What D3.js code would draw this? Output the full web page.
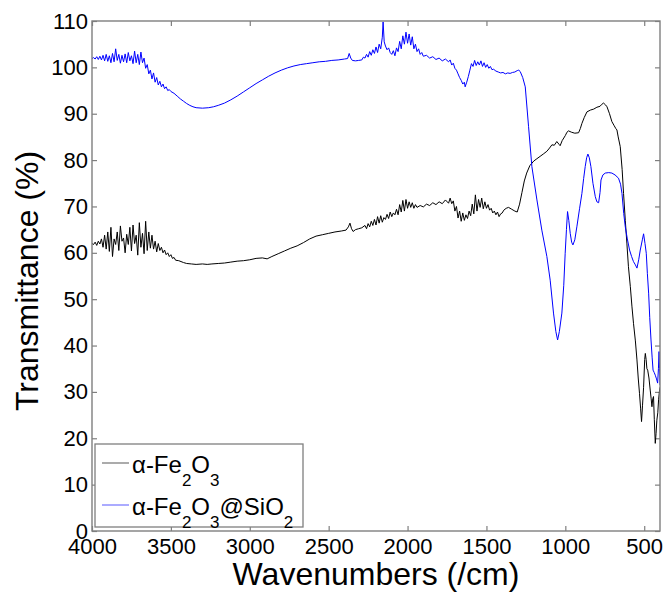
<!DOCTYPE html>
<html>
<head>
<meta charset="utf-8">
<script src="https://cdn.jsdelivr.net/npm/d3@7"></script>
<style>
body { margin: 0; background: #fff; }
svg text { font-family: "Liberation Sans", Arial, sans-serif; fill: #000; }
</style>
</head>
<body>
<svg id="chart"></svg>
<script>
const chartSize = { width: 668, height: 594 };
const margin = { left: 92, right: 8, top: 21, bottom: 63 };
const width = chartSize.width - margin.left - margin.right;
const height = chartSize.height - margin.top - margin.bottom;

const xTicks = [4000, 3500, 3000, 2500, 2000, 1500, 1000, 500];
const yTicks = [0, 10, 20, 30, 40, 50, 60, 70, 80, 90, 100, 110];

// [wavenumber, transmittance]
const fe2o3 = [
	[4000, 62.0], [3990, 61.8], [3980, 62.3], [3970, 61.6], [3960, 62.5], [3950, 61.9], [3940, 63.0], [3930, 61.2],
	[3920, 63.8], [3910, 60.8], [3900, 64.5], [3890, 60.3], [3880, 65.5], [3870, 59.2], [3860, 63.0], [3850, 61.8],
	[3840, 64.5], [3830, 60.5], [3820, 65.8], [3810, 62.5], [3800, 63.2], [3790, 60.0], [3780, 64.0], [3770, 61.8],
	[3760, 65.5], [3750, 60.4], [3740, 66.0], [3730, 62.0], [3720, 63.8], [3710, 59.5], [3700, 66.5], [3690, 61.2],
	[3680, 64.2], [3670, 59.8], [3660, 66.8], [3650, 60.5], [3640, 64.5], [3630, 61.0], [3620, 63.8], [3610, 60.8],
	[3600, 62.5], [3590, 60.2], [3580, 62.0], [3570, 60.5], [3560, 61.2], [3550, 60.0], [3540, 60.6], [3530, 59.6],
	[3520, 60.0], [3510, 59.2], [3500, 59.6], [3490, 58.8], [3480, 59.0], [3470, 58.4], [3450, 58.3], [3420, 57.9],
	[3400, 57.7], [3370, 57.6], [3340, 57.5], [3300, 57.6], [3270, 57.5], [3240, 57.6], [3200, 57.7], [3160, 57.8],
	[3120, 58.0], [3080, 58.2], [3040, 58.3], [3000, 58.5], [2960, 58.8], [2920, 58.9], [2890, 58.7], [2860, 59.2],
	[2820, 59.8], [2780, 60.4], [2740, 61.0], [2700, 61.5], [2660, 62.2], [2620, 63.0], [2580, 63.6], [2540, 63.9],
	[2500, 64.2], [2460, 64.5], [2420, 64.7], [2390, 64.9], [2375, 65.6], [2365, 66.4], [2355, 65.2], [2345, 64.6],
	[2330, 65.0], [2310, 65.2], [2290, 65.4], [2270, 65.9], [2260, 65.2], [2250, 66.3], [2240, 65.6], [2230, 66.8],
	[2220, 65.9], [2210, 67.2], [2200, 66.0], [2190, 67.8], [2180, 66.4], [2170, 68.0], [2160, 66.6], [2150, 67.6],
	[2140, 67.2], [2130, 68.3], [2120, 67.4], [2110, 68.8], [2100, 67.8], [2090, 68.6], [2080, 68.2], [2070, 69.4],
	[2060, 68.2], [2050, 70.4], [2040, 68.8], [2030, 71.3], [2020, 69.0], [2010, 71.5], [2000, 69.6], [1990, 71.0],
	[1980, 69.8], [1970, 70.8], [1960, 69.6], [1950, 70.4], [1940, 69.8], [1920, 70.2], [1900, 69.9], [1880, 70.5],
	[1860, 70.2], [1840, 70.8], [1820, 70.4], [1800, 71.0], [1780, 70.6], [1760, 71.4], [1740, 70.7], [1730, 71.8],
	[1720, 70.6], [1710, 71.2], [1700, 69.0], [1690, 70.0], [1680, 67.5], [1670, 69.0], [1660, 66.8], [1650, 68.6],
	[1640, 67.0], [1630, 68.2], [1620, 67.4], [1610, 69.0], [1600, 68.0], [1590, 70.5], [1580, 68.4], [1570, 72.5],
	[1560, 69.0], [1550, 71.5], [1540, 69.8], [1530, 71.8], [1520, 69.5], [1510, 71.0], [1500, 69.6], [1490, 70.4],
	[1480, 69.2], [1470, 69.6], [1460, 68.6], [1450, 69.0], [1440, 68.2], [1430, 68.8], [1420, 67.8], [1410, 68.4],
	[1400, 68.6], [1390, 69.2], [1375, 69.6], [1360, 69.8], [1340, 69.4], [1320, 69.0], [1305, 68.8], [1290, 70.5],
	[1275, 73.0], [1260, 75.5], [1245, 77.2], [1225, 78.8], [1200, 79.8], [1180, 80.3], [1160, 80.8], [1140, 81.3],
	[1117, 81.9], [1100, 82.6], [1085, 83.3], [1070, 83.2], [1054, 84.0], [1040, 83.4], [1033, 83.1], [1020, 84.2],
	[1000, 85.3], [990, 86.0], [980, 86.3], [960, 86.0], [940, 85.8], [916, 85.9], [905, 86.8], [895, 87.9],
	[880, 89.2], [863, 90.4], [840, 90.8], [820, 91.0], [800, 91.4], [780, 91.6], [770, 92.0], [758, 92.3],
	[745, 91.9], [736, 91.5], [720, 90.0], [705, 88.3], [690, 87.4], [680, 86.8], [673, 86.5], [665, 85.0],
	[652, 82.9], [640, 78.0], [631, 72.8], [620, 67.0], [610, 62.1], [600, 57.0], [588, 52.7], [578, 48.5],
	[568, 44.8], [556, 41.0], [546, 36.9], [538, 33.0], [530, 29.7], [523, 26.5], [517, 23.6], [511, 27.0],
	[504, 31.0], [497, 37.0], [493, 38.3], [488, 37.0], [483, 35.0], [478, 34.7], [470, 33.0], [462, 30.4],
	[456, 28.5], [451, 26.8], [446, 28.5], [441, 29.0], [436, 24.0], [430, 18.9], [425, 21.0], [420, 23.9],
	[414, 25.5], [409, 28.3], [404, 30.0], [400, 31.0]
];

const fe2o3Sio2 = [
	[4000, 101.9], [3990, 102.1], [3980, 101.8], [3970, 102.3], [3960, 101.7], [3950, 102.4], [3940, 101.6], [3930, 102.6],
	[3920, 101.4], [3910, 102.8], [3900, 101.3], [3890, 102.5], [3880, 101.0], [3870, 103.0], [3860, 101.2], [3850, 104.0],
	[3840, 101.5], [3830, 102.8], [3820, 100.9], [3810, 102.6], [3800, 101.2], [3790, 102.9], [3780, 101.0], [3770, 103.2],
	[3760, 101.4], [3750, 102.5], [3740, 100.8], [3730, 103.5], [3720, 101.0], [3710, 102.8], [3700, 100.6], [3690, 103.3],
	[3680, 101.0], [3670, 102.0], [3660, 99.8], [3650, 100.6], [3640, 98.6], [3630, 99.4], [3620, 97.5], [3610, 98.8],
	[3600, 96.8], [3590, 97.8], [3580, 96.2], [3570, 97.0], [3560, 95.8], [3550, 96.4], [3540, 95.4], [3530, 95.8],
	[3520, 95.0], [3510, 95.2], [3500, 94.8], [3480, 94.4], [3460, 93.8], [3440, 93.2], [3420, 92.7], [3400, 92.2],
	[3380, 91.8], [3360, 91.5], [3340, 91.3], [3300, 91.2], [3260, 91.3], [3230, 91.5], [3200, 91.8], [3160, 92.3],
	[3120, 93.0], [3080, 93.8], [3040, 94.7], [3000, 95.6], [2960, 96.5], [2920, 97.3], [2880, 98.1], [2840, 98.8],
	[2800, 99.4], [2760, 99.9], [2720, 100.3], [2680, 100.6], [2640, 100.8], [2600, 101.0], [2560, 101.2], [2520, 101.3],
	[2480, 101.5], [2440, 101.6], [2400, 101.8], [2380, 101.9], [2370, 103.0], [2360, 102.0], [2350, 101.5], [2330, 101.4],
	[2310, 101.5], [2290, 101.6], [2280, 102.2], [2270, 102.0], [2260, 102.8], [2250, 102.2], [2240, 103.4], [2230, 102.6],
	[2220, 103.8], [2210, 103.0], [2200, 104.4], [2190, 103.2], [2180, 105.0], [2170, 104.0], [2160, 106.5], [2155, 109.8],
	[2148, 105.5], [2140, 104.6], [2130, 103.8], [2120, 104.2], [2110, 103.2], [2100, 102.8], [2090, 103.6], [2080, 102.5],
	[2070, 104.2], [2060, 103.4], [2050, 105.6], [2040, 104.0], [2030, 106.8], [2020, 105.0], [2010, 107.6], [2000, 105.2],
	[1990, 107.2], [1980, 104.8], [1970, 106.6], [1960, 104.0], [1950, 105.0], [1940, 103.4], [1930, 104.0], [1920, 102.8],
	[1910, 103.2], [1900, 102.4], [1880, 102.6], [1860, 102.0], [1840, 102.3], [1820, 101.7], [1800, 102.0], [1780, 101.4],
	[1760, 101.8], [1740, 101.2], [1730, 101.6], [1720, 100.5], [1710, 100.9], [1700, 99.8], [1690, 99.4], [1680, 98.6],
	[1670, 97.8], [1660, 97.2], [1650, 96.4], [1640, 96.8], [1635, 95.8], [1625, 96.8], [1615, 98.0], [1605, 99.4],
	[1595, 100.8], [1585, 100.2], [1575, 101.5], [1565, 100.4], [1555, 101.2], [1545, 100.5], [1535, 101.4], [1525, 100.2],
	[1515, 101.0], [1505, 100.0], [1495, 100.6], [1485, 99.8], [1475, 100.2], [1465, 99.5], [1455, 99.6], [1440, 99.2],
	[1425, 99.0], [1410, 98.8], [1395, 98.9], [1380, 98.6], [1365, 98.8], [1350, 98.7], [1335, 98.9], [1320, 99.0],
	[1305, 99.3], [1295, 99.4], [1286, 99.1], [1270, 97.8], [1254, 95.8], [1233, 87.2], [1212, 78.6], [1180, 71.4],
	[1149, 64.9], [1117, 59.2], [1096, 54.1], [1075, 47.0], [1060, 43.0], [1049, 41.2], [1038, 43.0], [1022, 47.0],
	[1010, 53.0], [1001, 59.9], [993, 65.0], [986, 68.9], [978, 67.0], [969, 64.2], [960, 62.3], [952, 61.7],
	[940, 62.8], [927, 65.6], [910, 69.5], [895, 72.8], [884, 76.0], [874, 78.6], [865, 80.5], [857, 81.3],
	[848, 80.5], [838, 78.6], [825, 75.0], [810, 72.1], [800, 71.0], [789, 70.8], [780, 73.0], [774, 75.7],
	[762, 76.8], [747, 77.2], [725, 77.3], [705, 77.2], [685, 76.8], [663, 76.1], [650, 74.8], [641, 72.8],
	[630, 68.5], [620, 65.6], [607, 63.0], [593, 60.6], [580, 59.2], [568, 58.1], [556, 57.4], [546, 56.7],
	[535, 58.5], [525, 60.6], [512, 62.8], [504, 64.1], [495, 62.0], [487, 59.9], [480, 55.5], [472, 51.3],
	[465, 46.0], [457, 41.2], [450, 37.5], [444, 34.7], [437, 34.2], [430, 33.6], [422, 32.8], [415, 31.9],
	[410, 35.0], [406, 38.7], [403, 35.0], [400, 31.5]
];

const seriesColors = ["#000000", "#0000ff"];
const legendLabels = [
	[["α-Fe", 0], ["2", 1], ["O", 0], ["3", 1]],
	[["α-Fe", 0], ["2", 1], ["O", 0], ["3", 1], ["@SiO", 0], ["2", 1]]
];

const axisGray = "#7f7f7f";

const svg = d3
	.select("#chart")
	.attr("width", chartSize.width)
	.attr("height", chartSize.height);

const x = d3
	.scaleLinear()
	.domain([4000, 400])
	.range([margin.left, margin.left + width]);

const y = d3
	.scaleLinear()
	.domain([0, 110])
	.range([margin.top + height, margin.top]);

svg.append("defs")
	.append("clipPath")
	.attr("id", "plot-clip")
	.append("rect")
	.attr("x", margin.left)
	.attr("y", margin.top)
	.attr("width", width)
	.attr("height", height);

const styleAxis = g => {
	g.select(".domain").remove();
	g.selectAll(".tick line").attr("stroke", axisGray).attr("stroke-width", 1.2);
	g.selectAll(".tick text")
		.attr("font-size", 22)
		.attr("font-family", "'Liberation Sans', Arial, sans-serif");
};

const plain = d3.format("d");

svg.append("g")
	.attr("transform", `translate(0,${margin.top + height})`)
	.call(d3.axisBottom(x).tickValues(xTicks).tickFormat(plain).tickSizeInner(-5).tickSizeOuter(0).tickPadding(7))
	.call(styleAxis);

svg.append("g")
	.attr("transform", `translate(0,${margin.top})`)
	.call(d3.axisTop(x).tickValues(xTicks).tickSizeInner(-5).tickSizeOuter(0).tickFormat(""))
	.call(styleAxis);

svg.append("g")
	.attr("transform", `translate(${margin.left},0)`)
	.call(d3.axisLeft(y).tickValues(yTicks).tickFormat(plain).tickSizeInner(-5).tickSizeOuter(0).tickPadding(4))
	.call(styleAxis);

svg.append("g")
	.attr("transform", `translate(${margin.left + width},0)`)
	.call(d3.axisRight(y).tickValues(yTicks).tickSizeInner(-5).tickSizeOuter(0).tickFormat(""))
	.call(styleAxis);

const line = d3
	.line()
	.x(d => x(d[0]))
	.y(d => y(d[1]));

const plot = svg.append("g").attr("clip-path", "url(#plot-clip)");

[fe2o3, fe2o3Sio2].forEach((series, i) => {
	plot.append("path")
		.attr("d", line(series))
		.attr("fill", "none")
		.attr("stroke", seriesColors[i])
		.attr("stroke-width", 1)
		.attr("stroke-linejoin", "round");
});

svg.append("rect")
	.attr("x", margin.left)
	.attr("y", margin.top)
	.attr("width", width)
	.attr("height", height)
	.attr("fill", "none")
	.attr("stroke", axisGray)
	.attr("stroke-width", 1.4);

svg.append("text")
	.attr("x", margin.left + width / 2)
	.attr("y", 585)
	.attr("text-anchor", "middle")
	.attr("font-size", 32)
	.text("Wavenumbers (/cm)");

svg.append("text")
	.attr("transform", "translate(38,281) rotate(-90)")
	.attr("text-anchor", "middle")
	.attr("font-size", 32)
	.text("Transmittance (%)");

// legend
const legend = svg.append("g");
legend.append("rect")
	.attr("x", 95)
	.attr("y", 444)
	.attr("width", 208)
	.attr("height", 83)
	.attr("fill", "#fff")
	.attr("stroke", axisGray)
	.attr("stroke-width", 1.3);

legendLabels.forEach((parts, i) => {
	const rowY = 473 + i * 42;
	legend.append("line")
		.attr("x1", 102)
		.attr("x2", 129)
		.attr("y1", rowY - 10)
		.attr("y2", rowY - 10)
		.attr("stroke", seriesColors[i])
		.attr("stroke-opacity", 0.55)
		.attr("stroke-width", 1.2);
	const t = legend.append("text")
		.attr("x", 132)
		.attr("y", rowY)
		.attr("font-size", 24);
	let shifted = 0;
	parts.forEach(([s, sub]) => {
		const dy = sub ? 13 - shifted : -shifted;
		shifted = sub ? 13 : 0;
		t.append("tspan")
			.attr("dy", dy)
			.attr("font-size", sub ? 17 : 24)
			.text(s);
	});
});
</script>
</body>
</html>
